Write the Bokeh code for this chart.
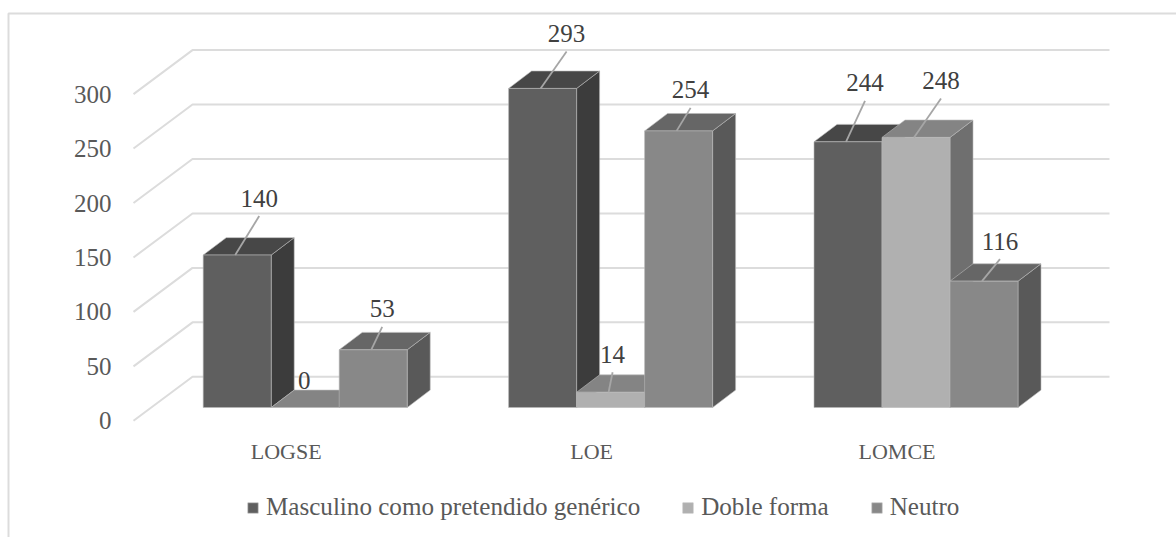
from bokeh.core.properties import value
from bokeh.embed import file_html
from bokeh.models import (ColumnDataSource, FixedTicker, Legend, LegendItem,
                          LinearAxis, Range1d)
from bokeh.plotting import figure
from bokeh.resources import INLINE

# Chart data
categories = ["LOGSE", "LOE", "LOMCE"]
series_names = ["Masculino como pretendido genérico", "Doble forma", "Neutro"]
masculino = [140, 293, 244]
doble_forma = [0, 14, 248]
neutro = [53, 254, 116]
y_ticks = [0, 50, 100, 150, 200, 250, 300]

# Shades per series: front, top and side faces
faces = [("#5f5f5f", "#474747", "#3c3c3c"),
         ("#b0b0b0", "#848484", "#6f6f6f"),
         ("#888888", "#666666", "#595959")]

# Offsets of each value label from the middle of its bar's top edge (group, series)
label_offsets = [[(24, -57), (1, -27), (11, -41)],
                 [(26, -55), (4, -38), (14, -41)],
                 [(19, -59), (27, -57), (18, -40)]]

FONT = "Liberation Serif"
W, H = 1176, 537
TIP_X, TIP_Y = 133.0, 420.3       # floor's front-left corner on the page
PX_PER_GROUP = 305.4
PX_PER_UNIT = 1.089
FLOOR_DX, FLOOR_DY = 59.0, 44.0   # depth of the chart floor
BAR_DX, BAR_DY = 23.0, 17.4       # depth of a bar
BAR_SHIFT_X, BAR_SHIFT_Y = 19.0, 13.3
BAR_W = 68.0

p = figure(width=W, height=H, output_backend="svg", toolbar_location=None,
           x_range=Range1d(-TIP_X / PX_PER_GROUP, (W - TIP_X) / PX_PER_GROUP),
           y_range=Range1d((TIP_Y - H) / PX_PER_UNIT, TIP_Y / PX_PER_UNIT),
           x_axis_type=None, y_axis_type=None,
           min_border=0, outline_line_color=None)
p.grid.visible = False
p.background_fill_color = "white"


def dx(px):
    return px / PX_PER_GROUP


def dy(px):
    return px / PX_PER_UNIT


def page_x(px):
    return (px - TIP_X) / PX_PER_GROUP


def page_y(py):
    return (TIP_Y - py) / PX_PER_UNIT


# Chart border: top and left edges, running off the page
p.line([page_x(8), page_x(8), page_x(W + 5)], [page_y(H + 5), page_y(13), page_y(13)],
       line_color="#dcdcdc", line_width=2)

# Axes sit inside the page-sized frame
axis_style = dict(axis_line_color=None, major_tick_line_color=None,
                  minor_tick_line_color=None,
                  major_label_text_color="#595959",
                  major_label_text_font=FONT)
left_axis = LinearAxis(ticker=FixedTicker(ticks=y_ticks), fixed_location=page_x(117),
                       major_label_standoff=0, major_label_text_font_size="25px", **axis_style)
p.add_layout(left_axis, "left")
below_axis = LinearAxis(ticker=FixedTicker(ticks=[i + 0.5 for i in range(len(categories))]),
                        major_label_overrides={i + 0.5: c for i, c in enumerate(categories)},
                        fixed_location=page_y(432), major_label_standoff=0,
                        major_label_text_font_size="22px", **axis_style)
p.add_layout(below_axis, "below")

# Floor and back-wall grid lines
grid_xs, grid_ys = [], []
for t in y_ticks:
    grid_xs.append([0, dx(FLOOR_DX), page_x(1109)])
    grid_ys.append([t, t + dy(FLOOR_DY), t + dy(FLOOR_DY)])
p.multi_line(grid_xs, grid_ys, line_color="#dcdcdc", line_width=2)

# Bars: side, top, then front face, left to right
legend_renderers = []
label_rows = dict(x=[], y=[], text=[])
leader_rows = dict(x0=[], y0=[], x1=[], y1=[])
for g, cat in enumerate(categories):
    for s, values in enumerate((masculino, doble_forma, neutro)):
        v = values[g]
        front, top, side = faces[s]
        x0 = g + 0.5 + dx(BAR_SHIFT_X) + dx(BAR_W) * (s - 1.5)
        x1 = x0 + dx(BAR_W)
        y0 = dy(BAR_SHIFT_Y)
        y1 = y0 + v
        ddx, ddy = dx(BAR_DX), dy(BAR_DY)
        edge = dict(line_color="#b8b8b8", line_width=0.6)
        p.patch([x1, x1 + ddx, x1 + ddx, x1], [y0, y0 + ddy, y1 + ddy, y1], fill_color=side, **edge)
        p.patch([x0, x0 + ddx, x1 + ddx, x1], [y1, y1 + ddy, y1 + ddy, y1], fill_color=top, **edge)
        r = p.quad(left=x0, right=x1, bottom=y0, top=y1, fill_color=front, **edge)
        if g == 1:
            legend_renderers.append(r)
        ox, oy = label_offsets[g][s]
        cx = (x0 + x1) / 2 - dx(2)
        label_rows["x"].append(cx + dx(ox))
        label_rows["y"].append(y1 - dy(oy))
        label_rows["text"].append(str(v))
        if v > 0:
            leader_rows["x0"].append(cx)
            leader_rows["y0"].append(y1)
            leader_rows["x1"].append(cx + dx(ox))
            leader_rows["y1"].append(y1 - dy(oy + 18))

p.segment("x0", "y0", "x1", "y1", source=ColumnDataSource(leader_rows),
          line_color="#a6a6a6", line_width=1.8)
p.text("x", "y", text="text", source=ColumnDataSource(label_rows),
       text_align="center", text_baseline="middle", text_color="#404040",
       text_font=value(FONT), text_font_size="25px")

legend = Legend(items=[LegendItem(label=n, renderers=[r]) for n, r in zip(series_names, legend_renderers)],
                orientation="horizontal", location=(246, 16),
                border_line_color=None, background_fill_alpha=0,
                glyph_width=13, glyph_height=13, label_text_font=FONT,
                label_text_font_size="25.1px", label_text_color="#595959",
                spacing=41, label_standoff=7, padding=0, margin=0)
p.add_layout(legend, "center")

open("out.html", "w").write(file_html(p, INLINE))
